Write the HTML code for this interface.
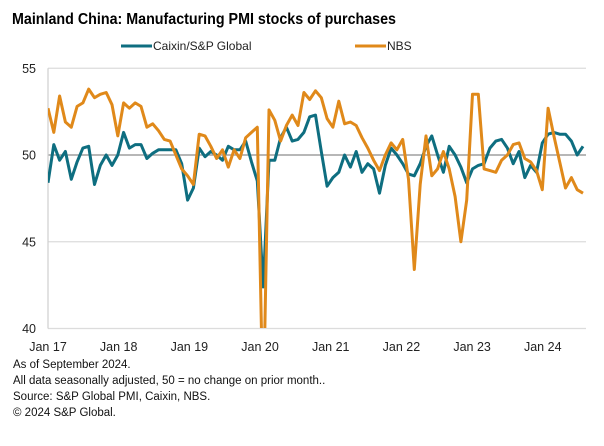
<!DOCTYPE html>
<html><head><meta charset="utf-8"><style>
html,body{margin:0;padding:0;background:#fff;}
body{width:604px;height:441px;overflow:hidden;font-family:"Liberation Sans",Arial,sans-serif;}
svg text{font-family:"Liberation Sans",Arial,sans-serif;}
</style></head><body>
<svg width="604" height="441" viewBox="0 0 604 441">
<text x="12" y="24" font-size="15.5" font-weight="bold" fill="#000" textLength="384" lengthAdjust="spacingAndGlyphs">Mainland China: Manufacturing PMI stocks of purchases</text>
<g>
<line x1="121" y1="46" x2="152" y2="46" stroke="#0e6e80" stroke-width="3"/>
<text x="153" y="50" font-size="12" fill="#222">Caixin/S&amp;P Global</text>
<line x1="355" y1="46" x2="386" y2="46" stroke="#e0891a" stroke-width="3"/>
<text x="387" y="50" font-size="12" fill="#222">NBS</text>
</g>
<defs><clipPath id="plotclip"><rect x="48" y="60" width="545" height="268"/></clipPath></defs>
<g id="grid"></g>
<g id="yaxis"></g>
<g id="xaxis"></g>
<g id="series" clip-path="url(#plotclip)"></g>
<g font-size="11.5" fill="#111">
<text x="13" y="368">As of September 2024.</text>
<text x="13" y="384">All data seasonally adjusted, 50 = no change on prior month..</text>
<text x="13" y="400">Source: S&amp;P Global PMI, Caixin, NBS.</text>
<text x="13" y="416">© 2024 S&amp;P Global.</text>
</g>
</svg>
<script>
const yTicks=[40,45,50,55];
const xTickLabels=["Jan 17","Jan 18","Jan 19","Jan 20","Jan 21","Jan 22","Jan 23","Jan 24"];
const caixin=[48.4,50.6,49.7,50.2,48.6,49.6,50.4,50.5,48.3,49.4,50.0,49.4,
50.0,51.3,50.4,50.6,50.6,49.8,50.1,50.3,50.3,50.3,50.3,49.5,
47.4,48.1,50.4,49.9,50.2,50.0,49.7,50.5,50.3,50.3,50.8,49.6,
48.5,42.4,49.7,49.7,51.0,51.6,50.8,50.9,51.3,52.2,52.3,50.2,
48.2,48.7,49.0,50.0,49.3,50.2,49.0,49.5,49.2,47.8,49.4,50.4,
50.0,49.5,48.9,48.8,49.5,50.5,51.1,50.0,49.0,50.5,50.0,49.3,
48.4,49.2,49.4,49.5,50.4,50.8,50.9,50.4,49.5,50.2,48.7,49.4,
49.0,50.7,51.2,51.3,51.2,51.2,50.8,50.0,50.5];
const nbs=[52.7,51.3,53.4,51.9,51.6,52.8,53.0,53.8,53.3,53.5,53.6,52.9,
51.1,53.0,52.7,53.0,52.8,51.6,51.8,51.4,50.9,50.8,50.0,49.2,
48.8,48.3,51.2,51.1,50.5,49.8,50.3,49.3,50.3,49.8,51.0,51.3,
51.6,35.0,52.6,52.0,50.8,51.7,52.3,51.7,53.6,53.2,53.7,53.3,
52.1,51.6,53.1,51.8,51.9,51.7,51.0,50.4,49.7,49.1,50.0,50.7,
50.3,50.9,48.6,43.4,48.3,51.1,48.8,49.2,50.2,49.2,47.6,45.0,
47.4,53.5,53.5,49.2,49.1,49.0,49.7,50.0,50.6,50.7,49.8,49.6,
49.1,48.0,52.7,51.1,49.6,48.1,48.7,48.0,47.8];
const NS='http://www.w3.org/2000/svg';
const x0=48,pxPerMonth=5.815;
function xs(i){return x0+i*pxPerMonth;}
function ys(v){return 155-(v-50)*17.35;}
const grid=document.getElementById('grid'),yaxis=document.getElementById('yaxis'),xaxis=document.getElementById('xaxis'),series=document.getElementById('series');
yTicks.forEach(t=>{
 const l=document.createElementNS(NS,'line');
 
 
 l.setAttribute('x1',x0);l.setAttribute('x2',586);l.setAttribute('y1',ys(t));l.setAttribute('y2',ys(t));
 l.setAttribute('stroke',t===50?'#8c8c8c':'#dcdcdc');l.setAttribute('stroke-width',1.2);
 grid.appendChild(l);
 const tx=document.createElementNS(NS,'text');
 
 
 tx.setAttribute('x',36);tx.setAttribute('y',ys(t)+4.5);tx.setAttribute('text-anchor','end');tx.setAttribute('font-size','12.5');tx.setAttribute('fill','#222');
 tx.textContent=t;yaxis.appendChild(tx);
});
const ax=document.createElementNS(NS,'line');


ax.setAttribute('x1',x0);ax.setAttribute('x2',x0);ax.setAttribute('y1',ys(55));ax.setAttribute('y2',ys(40));ax.setAttribute('stroke','#cfcfcf');ax.setAttribute('stroke-width',1.2);
yaxis.appendChild(ax);
xTickLabels.forEach((lab,i)=>{
 const tx=document.createElementNS(NS,'text');
 
 
 tx.setAttribute('x',xs(i*12)+i*0.9);tx.setAttribute('y',351);tx.setAttribute('text-anchor','middle');tx.setAttribute('font-size','12.5');tx.setAttribute('fill','#222');
 tx.textContent=lab;xaxis.appendChild(tx);
});
function drawLine(data,color,name){
 const p=document.createElementNS(NS,'polyline');
 
 
 p.setAttribute('points',data.map((v,i)=>xs(i).toFixed(1)+','+ys(v).toFixed(1)).join(' '));
 p.setAttribute('fill','none');p.setAttribute('stroke',color);p.setAttribute('stroke-width',3);p.setAttribute('stroke-linejoin','round');
 series.appendChild(p);
}
drawLine(caixin,'#0e6e80','caixin-line');
drawLine(nbs,'#e0891a','nbs-line');
</script>
</body></html>
